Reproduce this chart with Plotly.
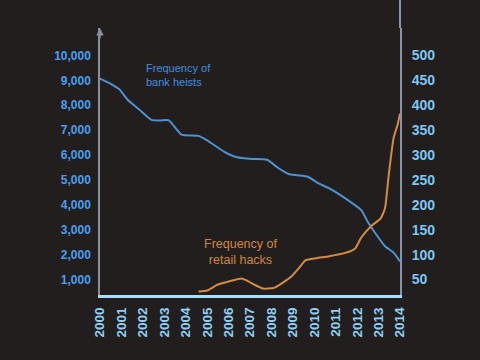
import plotly.graph_objects as go

# Frequency of bank heists (left axis)
heist_years = [2000.0, 2000.5, 2000.9, 2001.3, 2001.8, 2002.4, 2002.8, 2003.2, 2003.8,
               2004.6, 2005.0, 2005.8, 2006.4, 2007.1, 2007.8, 2008.3, 2008.8, 2009.2,
               2009.7, 2010.2, 2010.7, 2011.5, 2012.2, 2012.5, 2012.9, 2013.3, 2013.7, 2014.0]
heist_values = [9070, 8860, 8640, 8210, 7850, 7410, 7390, 7400, 6820,
                6770, 6590, 6130, 5910, 5840, 5810, 5490, 5240, 5190,
                5130, 4860, 4660, 4230, 3780, 3310, 2800, 2340, 2080, 1730]

# Frequency of retail hacks (right axis)
hack_years = [2004.6, 2005.0, 2005.5, 2006.0, 2006.6, 2006.9, 2007.2, 2007.6, 2008.1,
              2008.5, 2008.9, 2009.3, 2009.6, 2010.1, 2010.7, 2011.4, 2011.9, 2012.2,
              2012.7, 2013.1, 2013.3, 2013.4, 2013.47, 2013.55, 2013.7, 2013.9, 2014.0]
hack_values = [26, 28, 40, 46, 52, 47, 40, 32, 33,
               43, 55, 74, 89, 93, 97, 103, 112, 135,
               159, 173, 193, 229, 258, 287, 334, 363, 383]

year_ticks = list(range(2000, 2015))
left_ticks = list(range(1000, 10001, 1000))
left_labels = [f"{v:,}" for v in left_ticks]
right_ticks = list(range(50, 501, 50))
right_labels = [str(v) for v in right_ticks]

BG = "#211e1d"
FONT = "Liberation Sans"

fig = go.Figure()
fig.add_trace(go.Scatter(x=heist_years, y=heist_values, mode="lines",
                         line=dict(color="#4d93d3", width=2, shape="spline", smoothing=0.5),
                         name="Frequency of bank heists", yaxis="y"))
fig.add_trace(go.Scatter(x=hack_years, y=hack_values, mode="lines",
                         line=dict(color="#d48c45", width=2, shape="spline", smoothing=0.5),
                         name="Frequency of retail hacks", yaxis="y2"))

fig.update_layout(
    width=480, height=360,
    paper_bgcolor=BG, plot_bgcolor=BG,
    showlegend=False,
    margin=dict(l=100, r=80, t=28, b=65),
    xaxis=dict(range=[2000, 2014], tickvals=year_ticks, ticktext=[str(y) for y in year_ticks],
               tickangle=-90, showgrid=False, zeroline=False,
               showline=True, linecolor="#a6defc", linewidth=3,
               tickfont=dict(family=FONT, size=13.5, color="#8fd0f5", weight="bold"),
               ticks="", ticklabelstandoff=4),
    yaxis=dict(range=[380, 11100], tickvals=left_ticks, ticktext=left_labels,
               showgrid=False, zeroline=False,
               showline=True, linecolor="#8a8f99", linewidth=1.5,
               tickfont=dict(family=FONT, size=12, color="#4a9ff0", weight="bold"),
               ticks="", ticklabelstandoff=5),
    yaxis2=dict(range=[19, 555], tickvals=right_ticks, ticktext=right_labels,
                overlaying="y", side="right", showgrid=False, zeroline=False,
                showline=True, linecolor="#8a96a8", linewidth=2,
                tickfont=dict(family=FONT, size=14, color="#7ec6f2", weight="bold"),
                ticks="", ticklabelstandoff=7),
    shapes=[
        dict(type="line", xref="paper", yref="paper", x0=1, x1=1, y0=1, y1=1.11,
             line=dict(color="#8a96a8", width=2)),
    ],
    annotations=[
        dict(text="Frequency of<br>bank heists", xref="paper", yref="paper",
             x=0.145, y=0.823, xanchor="left", yanchor="middle", showarrow=False,
             align="left", font=dict(family=FONT, size=11, color="#3f8fe0")),
        dict(text="Frequency of<br>retail hacks", xref="paper", yref="paper",
             x=0.467, y=0.16, xanchor="center", yanchor="middle", showarrow=False,
             align="center", font=dict(family=FONT, size=12.5, color="#d08838")),
        dict(text="", xref="paper", yref="paper", x=0, y=1.0, ax=0, ay=12,
             showarrow=True, arrowhead=2, arrowsize=1, arrowwidth=1.5,
             arrowcolor="#8a8f99"),
    ],
)

fig.write_html(
    "out.html",
    config={"displayModeBar": False},
    post_script="document.body.style.margin='0';document.body.style.background='#211e1d';",
)
